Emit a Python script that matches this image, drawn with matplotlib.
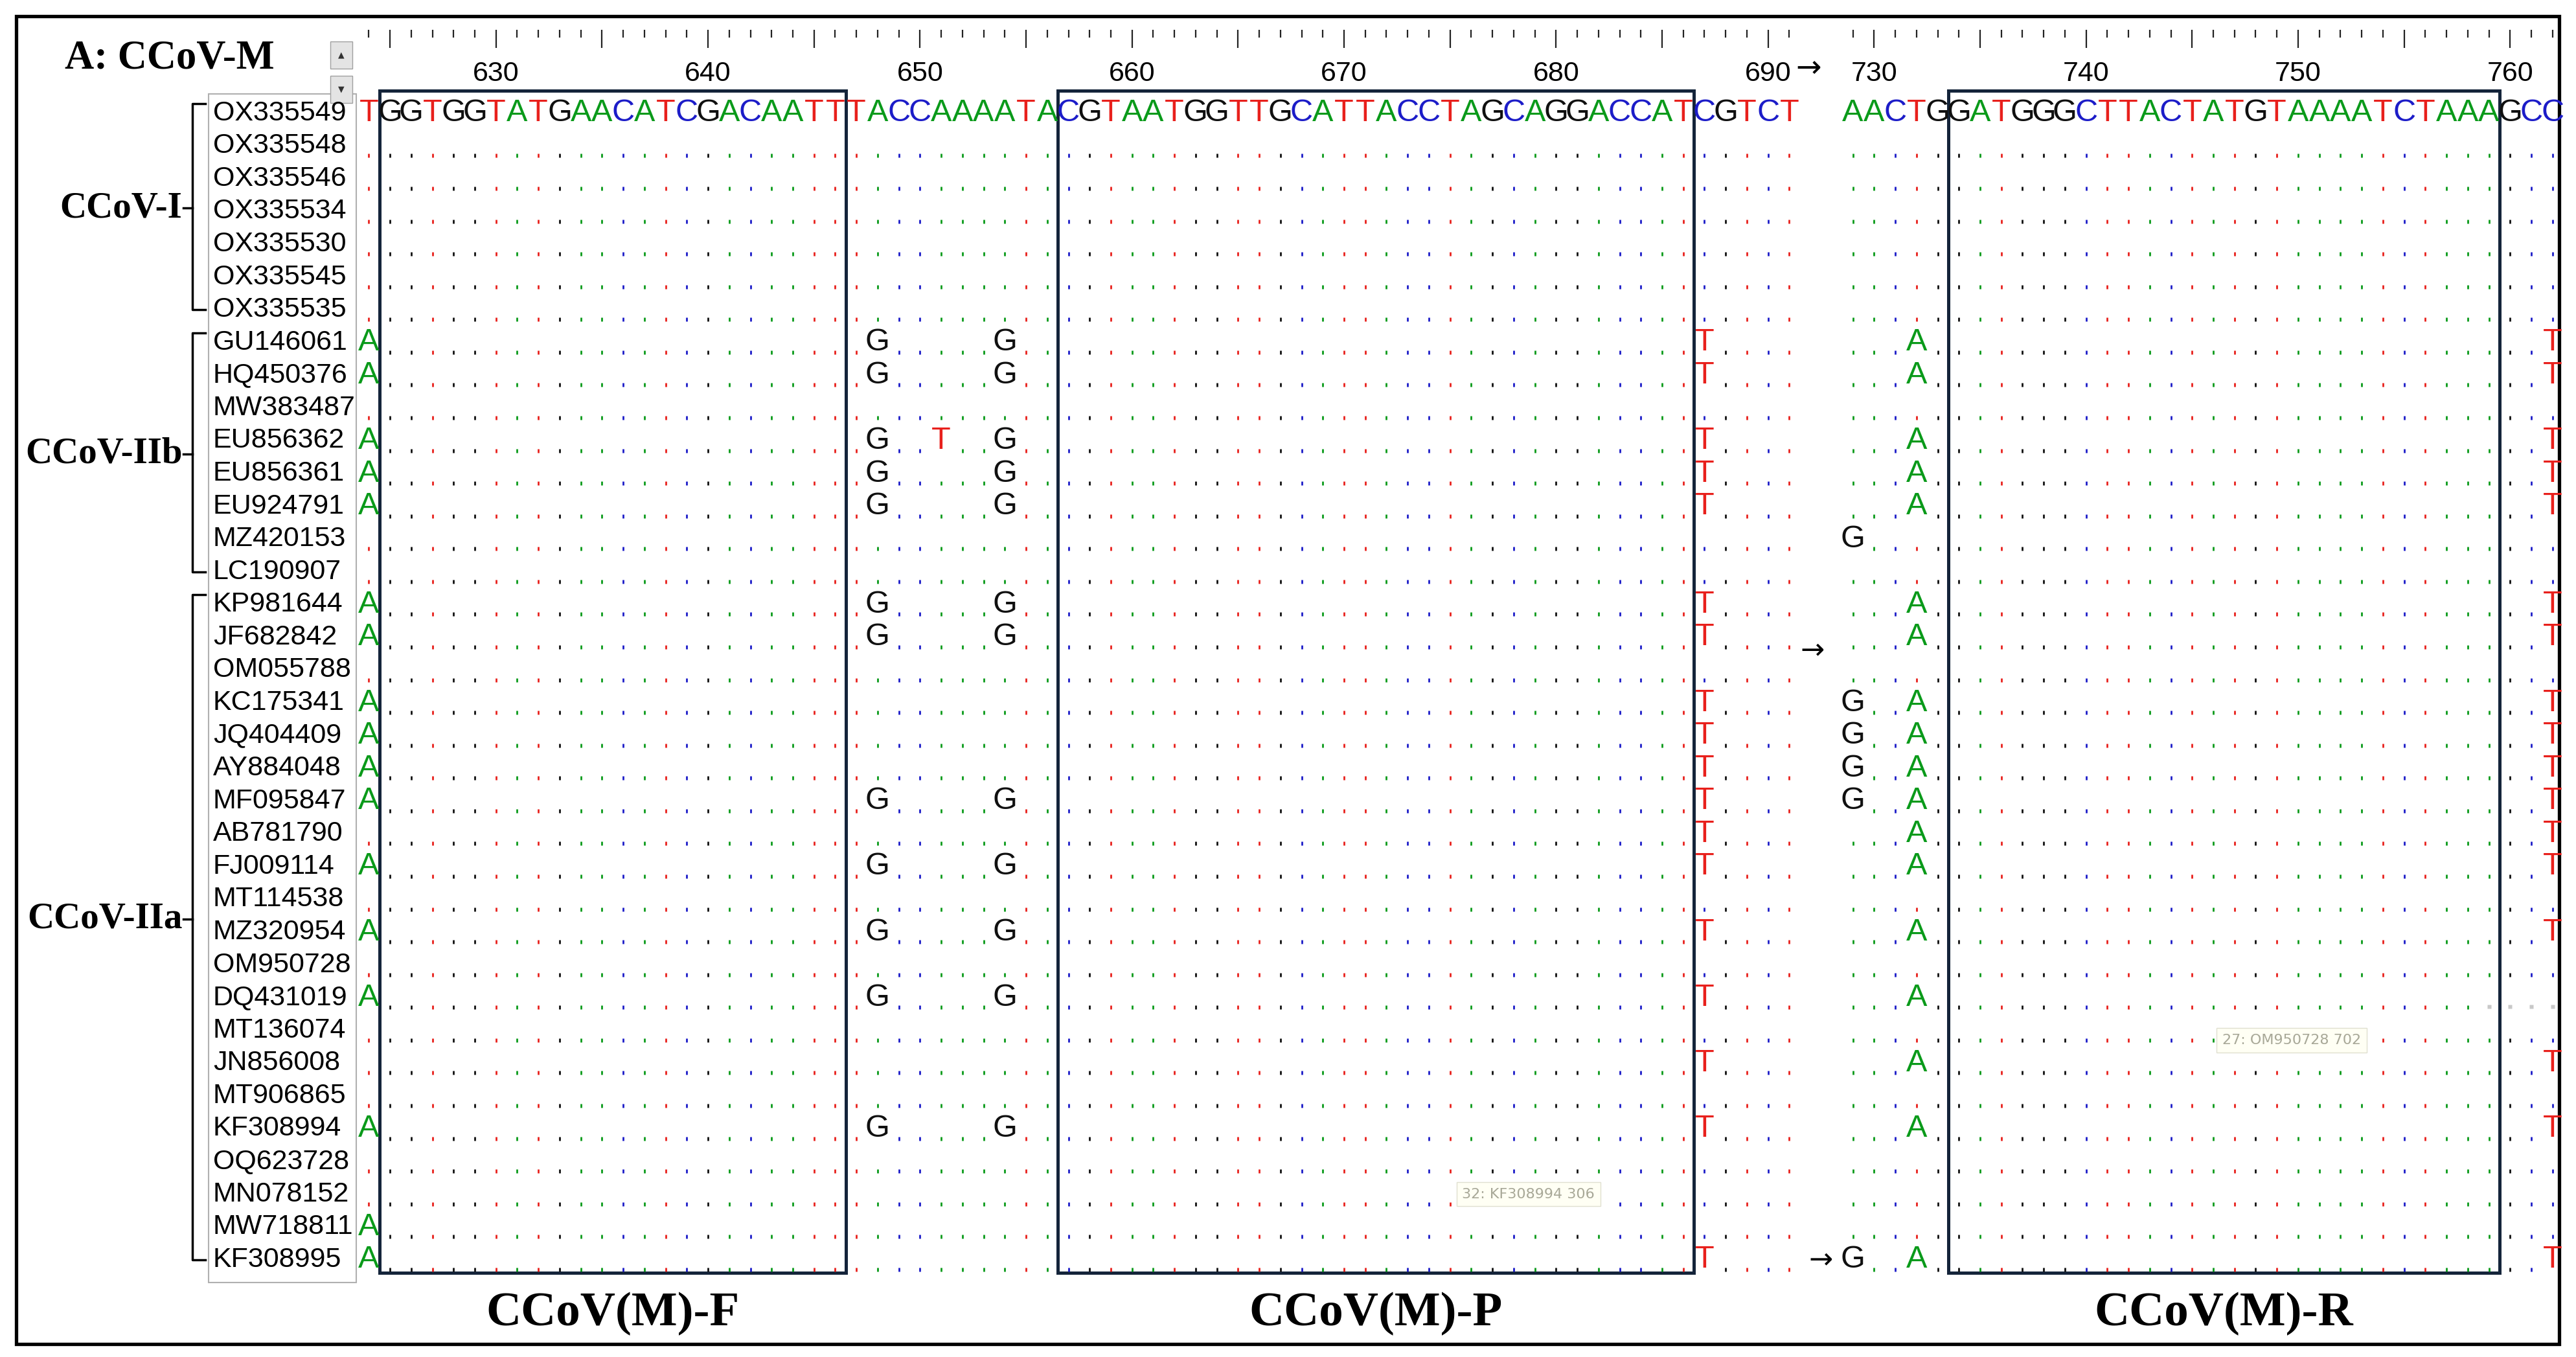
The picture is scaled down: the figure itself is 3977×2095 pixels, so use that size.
import matplotlib
matplotlib.use("Agg")
import matplotlib.pyplot as plt
from matplotlib.patches import Rectangle

W, H = 3977, 2095
names = ["OX335549","OX335548","OX335546","OX335534","OX335530","OX335545","OX335535",
         "GU146061","HQ450376","MW383487","EU856362","EU856361","EU924791","MZ420153","LC190907",
         "KP981644","JF682842","OM055788","KC175341","JQ404409","AY884048","MF095847","AB781790",
         "FJ009114","MT114538","MZ320954","OM950728","DQ431019","MT136074","JN856008","MT906865",
         "KF308994","OQ623728","MN078152","MW718811","KF308995"]
groups = [("CCoV-I", 0, 6, 2.9), ("CCoV-IIb", 7, 14, 10.4), ("CCoV-IIa", 15, 35, 24.6)]
seg1_start, seg1 = 624, "TGGTGGTATGAACATCGACAATTTACCAAAATACGTAATGGTTGCATTACCTAGCAGGACCATCGTCT"
seg2_start, seg2 = 729, "AACTGGATGGGCTTACTATGTAAAATCTAAAGCC"
ruler_labels = [630, 640, 650, 660, 670, 680, 690, 730, 740, 750, 760]
primer_boxes = [("CCoV(M)-F", 625, 646), ("CCoV(M)-P", 657, 686), ("CCoV(M)-R", 734, 759)]
full = [(624,'A'),(648,'G'),(654,'G'),(687,'T'),(732,'A'),(762,'T')]
variants = {
 "GU146061": full, "HQ450376": full,
 "EU856362": [(624,'A'),(648,'G'),(651,'T'),(654,'G'),(687,'T'),(732,'A'),(762,'T')],
 "EU856361": full, "EU924791": full, "MZ420153": [(729,'G')],
 "KP981644": full, "JF682842": full,
 "KC175341": [(624,'A'),(687,'T'),(729,'G'),(732,'A'),(762,'T')],
 "JQ404409": [(624,'A'),(687,'T'),(729,'G'),(732,'A'),(762,'T')],
 "AY884048": [(624,'A'),(687,'T'),(729,'G'),(732,'A'),(762,'T')],
 "MF095847": [(624,'A'),(648,'G'),(654,'G'),(687,'T'),(729,'G'),(732,'A'),(762,'T')],
 "AB781790": [(687,'T'),(732,'A'),(762,'T')],
 "FJ009114": full, "MZ320954": full,
 "DQ431019": [(624,'A'),(648,'G'),(654,'G'),(687,'T'),(732,'A')],
 "JN856008": [(687,'T'),(732,'A'),(762,'T')],
 "KF308994": full, "MW718811": [(624,'A')],
 "KF308995": [(624,'A'),(687,'T'),(729,'G'),(732,'A'),(762,'T')],
}
COL = {'A': '#0a9a1a', 'C': '#1c1cc8', 'G': '#101010', 'T': '#e8201c'}
seqfont = ['Liberation Sans Narrow', 'Liberation Sans', 'DejaVu Sans']
serif = ['Liberation Serif', 'DejaVu Serif']

def col(p):
    return p - seg1_start if p < seg2_start else p - seg2_start + len(seg1) + 2

header = {seg1_start + i: b for i, b in enumerate(seg1)}
header.update({seg2_start + i: b for i, b in enumerate(seg2)})

fig = plt.figure(figsize=(W/100, H/100), dpi=100)
ov = fig.add_axes([0, 0, 1, 1]); ov.set_xlim(0, W); ov.set_ylim(H, 0); ov.axis('off')
ax = fig.add_axes([553/W, 1-1970/H, (3944-553)/W, (1970-23)/H])
ax.set_xlim(-0.5, 103.1); ax.set_ylim(35.5, -3.0); ax.axis('off')

# frame
ov.add_patch(Rectangle((25, 25), 3926, 2050, fill=False, lw=3.8, ec='black'))
ov.add_patch(Rectangle((322, 145), 228, 1835, fill=False, lw=1.5, ec='#b0b0b0'))
for y0, s in [(64, '▲'), (117, '▼')]:
    ov.add_patch(Rectangle((510, y0), 34, 42, fc='#e4e4e4', ec='#a0a0a0', lw=1))
    ov.text(527, y0+21, s, ha='center', va='center', fontsize=9, color='#333')
ov.text(100, 91, "A: CCoV-M", fontsize=45, fontweight='bold', family=serif, va='center')

# ruler
for p in header:
    c = col(p)
    L = 0.55 if p % 5 == 0 else 0.25
    ax.plot([c, c], [-2.55, -2.55 + L], color='#222', lw=1.6, solid_capstyle='butt')
for p in ruler_labels:
    ax.text(col(p), -1.2, str(p), ha='center', va='center', fontsize=31, family=seqfont)
ax.text(67.9, -1.35, "→", ha='center', va='center', fontsize=34)

# header sequence
for p, b in header.items():
    ax.text(col(p), 0, b, ha='center', va='center', fontsize=35, color=COL[b], family=seqfont)

# rows
for r, nm in enumerate(names):
    ax.text(-7.35, r, nm, ha='left', va='center', fontsize=31, family=['Liberation Sans', 'DejaVu Sans'])
    if r == 0:
        continue
    var = dict(variants.get(nm, []))
    for p, b in header.items():
        c = col(p)
        if nm == "DQ431019" and p >= 759:
            ax.plot(c, r+0.28, marker='s', ms=4, color='#c8c8c8', mec='none')
            continue
        if p in var:
            vb = var[p]
            ax.text(c, r, vb, ha='center', va='center', fontsize=35, color=COL[vb], family=seqfont)
        else:
            ax.plot(c, r+0.3, marker='|', ms=4.5, mew=2.0, color=COL[b])

# arrows in rows
ax.text(68.1, 16.4, "→", ha='center', va='center', fontsize=32)
ax.text(68.5, 35, "→", ha='center', va='center', fontsize=32)

# primer boxes
for lab, a, b in primer_boxes:
    x0, x1 = col(a) - 0.5, col(b) + 0.5
    ax.add_patch(Rectangle((x0, -0.68), x1 - x0, 36.08, fill=False, lw=3.6, ec='#14243a', clip_on=False))
    ax.text((x0 + x1) / 2, 36.65, lab, ha='center', va='center', fontsize=54,
            fontweight='bold', family=serif, clip_on=False)

# tooltips
for x, y, t in [(90.7, 28.3, "27: OM950728 702"), (54.7, 33.0, "32: KF308994 306")]:
    ax.text(x, y, t, ha='center', va='center', fontsize=16, color='#a8a898',
            bbox=dict(boxstyle='square,pad=0.4', fc='#fffff4', ec='#e0e0d0', lw=1))

# group brackets
for lab, r0, r1, ym in groups:
    xb, xh = -8.32, -7.7
    ax.plot([xh, xb, xb, xh], [r0 - 0.3, r0 - 0.3, r1, r1], color='black', lw=2.5, clip_on=False)
    ax.plot([xb, -8.75], [ym, ym], color='black', lw=2.5, clip_on=False)
    ax.text(-8.8, ym, lab, ha='right', va='center', fontsize=41, fontweight='bold',
            family=serif, clip_on=False)

fig.savefig("out.png", dpi=100)
